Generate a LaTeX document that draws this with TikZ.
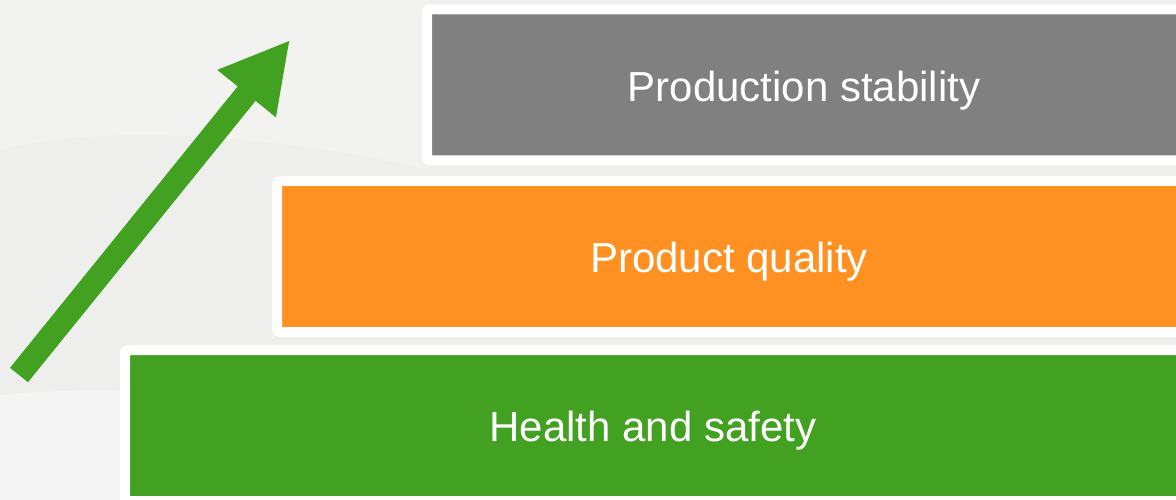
\documentclass[tikz,border=0pt]{standalone}
\usepackage{fontspec}
\setmainfont{Liberation Sans}
\usetikzlibrary{arrows.meta}
\definecolor{stepgreen}{HTML}{42A121}
\definecolor{steporange}{HTML}{FF9123}
\definecolor{stepgray}{HTML}{808080}
\definecolor{backgray}{HTML}{EEEEED}

\begin{document}
\begin{tikzpicture}[x=1pt,y=-1pt,
		bar/.style={draw=white, line width=10pt, rounded corners=3pt, anchor=west,
			minimum height=151pt, inner sep=0pt, outer sep=0pt},
		label/.style={text=white, font=\fontsize{42}{50}\selectfont},
		rise/.style={line width=23pt, color=stepgreen, -{Triangle[length=69pt,width=70pt]}}]
			\useasboundingbox (0,0) rectangle (1176,500);
			\clip (0,0) rectangle (1176,500);
			% background
			\fill[backgray] (0,0) rectangle (1176,500);
			\fill[white, opacity=0.45] (0,395) .. controls (150,380) and (330,400) .. (420,470) -- (420,500) -- (0,500) -- cycle;
			\fill[white, opacity=0.25] (0,0) -- (430,0) -- (430,170) .. controls (300,140) and (120,120) .. (0,150) -- cycle;
			% steps
			\node[bar, fill=stepgray, minimum width=754pt] (stability) at (427,85) {};
			\node[bar, fill=steporange, minimum width=904pt] (quality) at (277,256.5) {};
			\node[bar, fill=stepgreen, minimum width=1056pt] (safety) at (125,425.5) {};
			\node[label] at (804,91) {Production stability};
			\node[label] at (729,262) {Product quality};
			\node[label] at (653,431) {Health and safety};
			% arrow
			\coordinate (tail) at (19,375);
			\coordinate (tip) at (290,40);
			\draw[rise] (tail) -- (tip);
		\end{tikzpicture}
\end{document}
